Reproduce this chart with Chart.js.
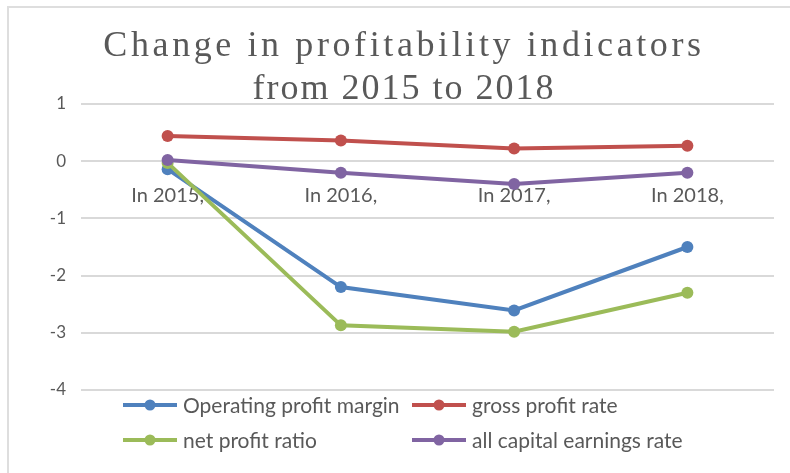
<!DOCTYPE html>
<html>
<head>
<meta charset="utf-8">
<script src="https://cdn.jsdelivr.net/npm/chart.js@4"></script>
<style>
  html, body { margin: 0; padding: 0; background: #fff; }
  #wrap { position: relative; width: 790px; height: 473px; }
  #frame { position: absolute; left: 7px; top: 6px; right: -10px; bottom: -10px;
           border-left: 2px solid #dedede; border-top: 2px solid #dedede; }
  canvas { position: absolute; left: 0; top: 0; }
</style>
</head>
<body>
<div id="wrap">
  <div id="frame"></div>
  <canvas id="chart" width="790" height="473"></canvas>
</div>
<script>
const years = ['In 2015,', 'In 2016,', 'In 2017,', 'In 2018,']
const operatingProfitMargin = [-0.14, -2.2, -2.61, -1.5]
const grossProfitRate = [0.44, 0.36, 0.22, 0.27]
const netProfitRatio = [-0.03, -2.87, -2.98, -2.3]
const allCapitalEarningsRate = [0.02, -0.2, -0.4, -0.2]
const yTicks = [1, 0, -1, -2, -3, -4]
const titleLines = ['Change in profitability indicators', 'from 2015 to 2018']

const textColor = '#595959'

function series(label, data, color, order) {
  return {
    label, data, order,
    borderColor: color,
    backgroundColor: color,
    borderWidth: 4,
    pointRadius: 6,
    pointHoverRadius: 6,
    pointBorderWidth: 0,
    tension: 0,
  }
}

// two-line title, spaced out to the width of the original's half-width font
const spacedTitle = {
  id: 'spacedTitle',
  afterDraw(chart) {
    const ctx = chart.ctx
    const lineY = [47, 90]
    const spacing = ['3.6px', '2px']
    ctx.save()
    ctx.font = '36px "Liberation Serif"'
    ctx.fillStyle = textColor
    ctx.textAlign = 'center'
    ctx.textBaseline = 'middle'
    titleLines.forEach((line, r) => {
      ctx.letterSpacing = spacing[r]
      ctx.fillText(line, 404, lineY[r])
    })
    ctx.restore()
  }
}

// legend laid out as a 2x2 grid below the plot
const gridLegend = {
  id: 'gridLegend',
  afterDraw(chart) {
    const ctx = chart.ctx
    const colX = [123, 412]
    const rowY = [405, 440]
    ctx.save()
    ctx.font = '21px Lato'
    ctx.textBaseline = 'middle'
    ctx.textAlign = 'left'
    chart.data.datasets.forEach((ds, i) => {
      const x = colX[i % 2]
      const y = rowY[Math.floor(i / 2)]
      ctx.strokeStyle = ds.borderColor
      ctx.lineWidth = 4
      ctx.beginPath()
      ctx.moveTo(x, y)
      ctx.lineTo(x + 54, y)
      ctx.stroke()
      ctx.fillStyle = ds.borderColor
      ctx.beginPath()
      ctx.arc(x + 27, y, 5.5, 0, Math.PI * 2)
      ctx.fill()
      ctx.fillStyle = textColor
      ctx.fillText(ds.label, x + 60, y + 1)
    })
    ctx.restore()
  }
}

new Chart(document.getElementById('chart'), {
  type: 'line',
  data: {
    labels: years,
    datasets: [
      series('Operating profit margin', operatingProfitMargin, '#4f81bd', 3),
      series('gross profit rate', grossProfitRate, '#c0504d', 2),
      series('net profit ratio', netProfitRatio, '#9bbb59', 1),
      series('all capital earnings rate', allCapitalEarningsRate, '#8064a2', 0),
    ],
  },
  options: {
    responsive: false,
    animation: false,
    layout: { padding: { left: 0, right: 16, top: 104, bottom: 83 } },
    plugins: {
      legend: { display: false },
      tooltip: { enabled: false },
      title: { display: false },
    },
    scales: {
      x: {
        position: { y: 0 },
        offset: true,
        grid: { display: false },
        border: { display: false },
        ticks: { color: textColor, font: { family: 'Lato', size: 20 }, padding: 14 },
      },
      y: {
        min: -4,
        max: 1,
        afterBuildTicks: (s) => { s.ticks = yTicks.map((v) => ({ value: v })) },
        afterFit: (s) => { s.width = 81 },
        grid: { color: '#d9d9d9', lineWidth: 2, drawTicks: false },
        border: { display: false },
        ticks: { color: textColor, font: { family: 'Lato', size: 17 }, padding: 15 },
      },
    },
  },
  plugins: [spacedTitle, gridLegend],
})
</script>
</body>
</html>
